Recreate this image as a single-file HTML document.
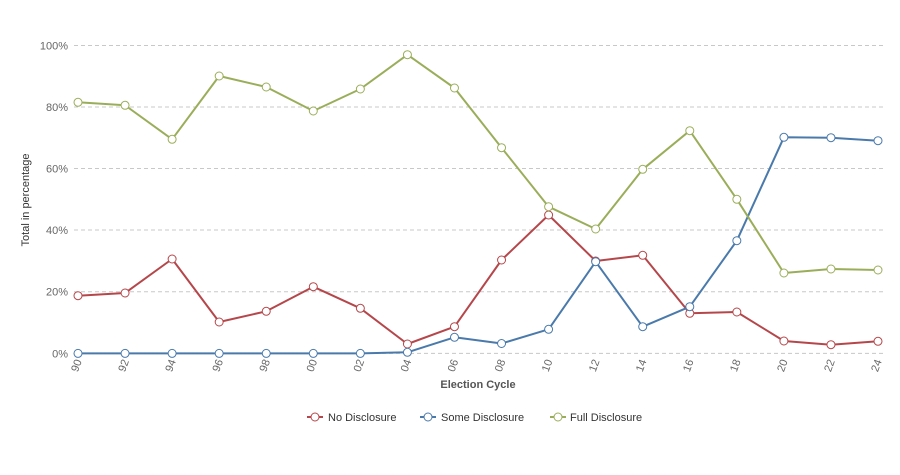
<!DOCTYPE html>
<html>
<head>
<meta charset="utf-8">
<style>
html,body{margin:0;padding:0;background:#fff;}
svg{display:block;font-family:"Liberation Sans",Arial,sans-serif;}
</style>
</head>
<body>
<svg width="900" height="475" viewBox="0 0 900 475" xmlns="http://www.w3.org/2000/svg">
<rect width="900" height="475" fill="#fff"/>
<g stroke="#c8c8c8" stroke-width="1" stroke-dasharray="4,3" fill="none">
<line x1="74" y1="45.5" x2="883" y2="45.5"/>
<line x1="74" y1="107" x2="883" y2="107"/>
<line x1="74" y1="168.5" x2="883" y2="168.5"/>
<line x1="74" y1="230" x2="883" y2="230"/>
<line x1="74" y1="291.7" x2="883" y2="291.7"/>
<line x1="74" y1="353.4" x2="883" y2="353.4"/>
</g>
<g font-size="11" fill="#666" text-anchor="end">
<text x="68" y="49.5">100%</text>
<text x="68" y="111">80%</text>
<text x="68" y="172.5">60%</text>
<text x="68" y="234">40%</text>
<text x="68" y="295.7">20%</text>
<text x="68" y="357.4">0%</text>
</g>
<text transform="translate(29,200) rotate(-90)" font-size="11" fill="#333" text-anchor="middle">Total in percentage</text>
<g font-size="11" fill="#666" text-anchor="end">
<text transform="translate(82,361) rotate(-70)">90</text>
<text transform="translate(129.06,361) rotate(-70)">92</text>
<text transform="translate(176.12,361) rotate(-70)">94</text>
<text transform="translate(223.18,361) rotate(-70)">96</text>
<text transform="translate(270.24,361) rotate(-70)">98</text>
<text transform="translate(317.3,361) rotate(-70)">00</text>
<text transform="translate(364.36,361) rotate(-70)">02</text>
<text transform="translate(411.42,361) rotate(-70)">04</text>
<text transform="translate(458.48,361) rotate(-70)">06</text>
<text transform="translate(505.54,361) rotate(-70)">08</text>
<text transform="translate(552.6,361) rotate(-70)">10</text>
<text transform="translate(599.66,361) rotate(-70)">12</text>
<text transform="translate(646.72,361) rotate(-70)">14</text>
<text transform="translate(693.78,361) rotate(-70)">16</text>
<text transform="translate(740.84,361) rotate(-70)">18</text>
<text transform="translate(787.9,361) rotate(-70)">20</text>
<text transform="translate(834.96,361) rotate(-70)">22</text>
<text transform="translate(882,361) rotate(-70)">24</text>
</g>
<text x="478" y="388" font-size="11" font-weight="bold" fill="#555" text-anchor="middle">Election Cycle</text>

<!-- Red: No Disclosure -->
<g stroke="#b5474b" fill="none" stroke-width="2">
<polyline points="78,295.7 125.06,293 172.12,259 219.18,322 266.24,311.3 313.3,286.7 360.36,308.3 407.42,344 454.48,326.7 501.54,260 548.6,215 595.66,261 642.72,255.3 689.78,313.3 736.84,312 783.9,341 830.96,344.7 878,341.3" stroke-linejoin="round"/>
</g>
<g stroke="#b5474b" fill="#fff" stroke-width="1">
<circle cx="78" cy="295.7" r="4"/><circle cx="125.06" cy="293" r="4"/><circle cx="172.12" cy="259" r="4"/><circle cx="219.18" cy="322" r="4"/><circle cx="266.24" cy="311.3" r="4"/><circle cx="313.3" cy="286.7" r="4"/><circle cx="360.36" cy="308.3" r="4"/><circle cx="407.42" cy="344" r="4"/><circle cx="454.48" cy="326.7" r="4"/><circle cx="501.54" cy="260" r="4"/><circle cx="548.6" cy="215" r="4"/><circle cx="595.66" cy="261" r="4"/><circle cx="642.72" cy="255.3" r="4"/><circle cx="689.78" cy="313.3" r="4"/><circle cx="736.84" cy="312" r="4"/><circle cx="783.9" cy="341" r="4"/><circle cx="830.96" cy="344.7" r="4"/><circle cx="878" cy="341.3" r="4"/>
</g>

<!-- Blue: Some Disclosure -->
<g stroke="#4a7aab" fill="none" stroke-width="2">
<polyline points="78,353.4 125.06,353.4 172.12,353.4 219.18,353.4 266.24,353.4 313.3,353.4 360.36,353.4 407.42,352.3 454.48,337.3 501.54,343.5 548.6,329.3 595.66,261.7 642.72,326.7 689.78,306.7 736.84,240.7 783.9,137.3 830.96,137.7 878,140.7" stroke-linejoin="round"/>
</g>
<g stroke="#4a7aab" fill="#fff" stroke-width="1">
<circle cx="78" cy="353.4" r="4"/><circle cx="125.06" cy="353.4" r="4"/><circle cx="172.12" cy="353.4" r="4"/><circle cx="219.18" cy="353.4" r="4"/><circle cx="266.24" cy="353.4" r="4"/><circle cx="313.3" cy="353.4" r="4"/><circle cx="360.36" cy="353.4" r="4"/><circle cx="407.42" cy="352.3" r="4"/><circle cx="454.48" cy="337.3" r="4"/><circle cx="501.54" cy="343.5" r="4"/><circle cx="548.6" cy="329.3" r="4"/><circle cx="595.66" cy="261.7" r="4"/><circle cx="642.72" cy="326.7" r="4"/><circle cx="689.78" cy="306.7" r="4"/><circle cx="736.84" cy="240.7" r="4"/><circle cx="783.9" cy="137.3" r="4"/><circle cx="830.96" cy="137.7" r="4"/><circle cx="878" cy="140.7" r="4"/>
</g>

<!-- Green: Full Disclosure -->
<g stroke="#9aae5a" fill="none" stroke-width="2">
<polyline points="78,102.3 125.06,105.3 172.12,139.3 219.18,76 266.24,87 313.3,111 360.36,89 407.42,54.7 454.48,88 501.54,147.7 548.6,206.7 595.66,229 642.72,169.3 689.78,130.7 736.84,199.3 783.9,273 830.96,269 878,270" stroke-linejoin="round"/>
</g>
<g stroke="#9aae5a" fill="#fff" stroke-width="1">
<circle cx="78" cy="102.3" r="4"/><circle cx="125.06" cy="105.3" r="4"/><circle cx="172.12" cy="139.3" r="4"/><circle cx="219.18" cy="76" r="4"/><circle cx="266.24" cy="87" r="4"/><circle cx="313.3" cy="111" r="4"/><circle cx="360.36" cy="89" r="4"/><circle cx="407.42" cy="54.7" r="4"/><circle cx="454.48" cy="88" r="4"/><circle cx="501.54" cy="147.7" r="4"/><circle cx="548.6" cy="206.7" r="4"/><circle cx="595.66" cy="229" r="4"/><circle cx="642.72" cy="169.3" r="4"/><circle cx="689.78" cy="130.7" r="4"/><circle cx="736.84" cy="199.3" r="4"/><circle cx="783.9" cy="273" r="4"/><circle cx="830.96" cy="269" r="4"/><circle cx="878" cy="270" r="4"/>
</g>

<!-- Legend -->
<g font-size="11" fill="#333">
<line x1="307" y1="417" x2="323" y2="417" stroke="#b5474b" stroke-width="2"/>
<circle cx="315" cy="417" r="4" fill="#fff" stroke="#b5474b" stroke-width="1"/>
<text x="328" y="421">No Disclosure</text>
<line x1="420" y1="417" x2="436" y2="417" stroke="#4a7aab" stroke-width="2"/>
<circle cx="428" cy="417" r="4" fill="#fff" stroke="#4a7aab" stroke-width="1"/>
<text x="441" y="421">Some Disclosure</text>
<line x1="550" y1="417" x2="566" y2="417" stroke="#9aae5a" stroke-width="2"/>
<circle cx="558" cy="417" r="4" fill="#fff" stroke="#9aae5a" stroke-width="1"/>
<text x="570" y="421">Full Disclosure</text>
</g>
</svg>
</body>
</html>
